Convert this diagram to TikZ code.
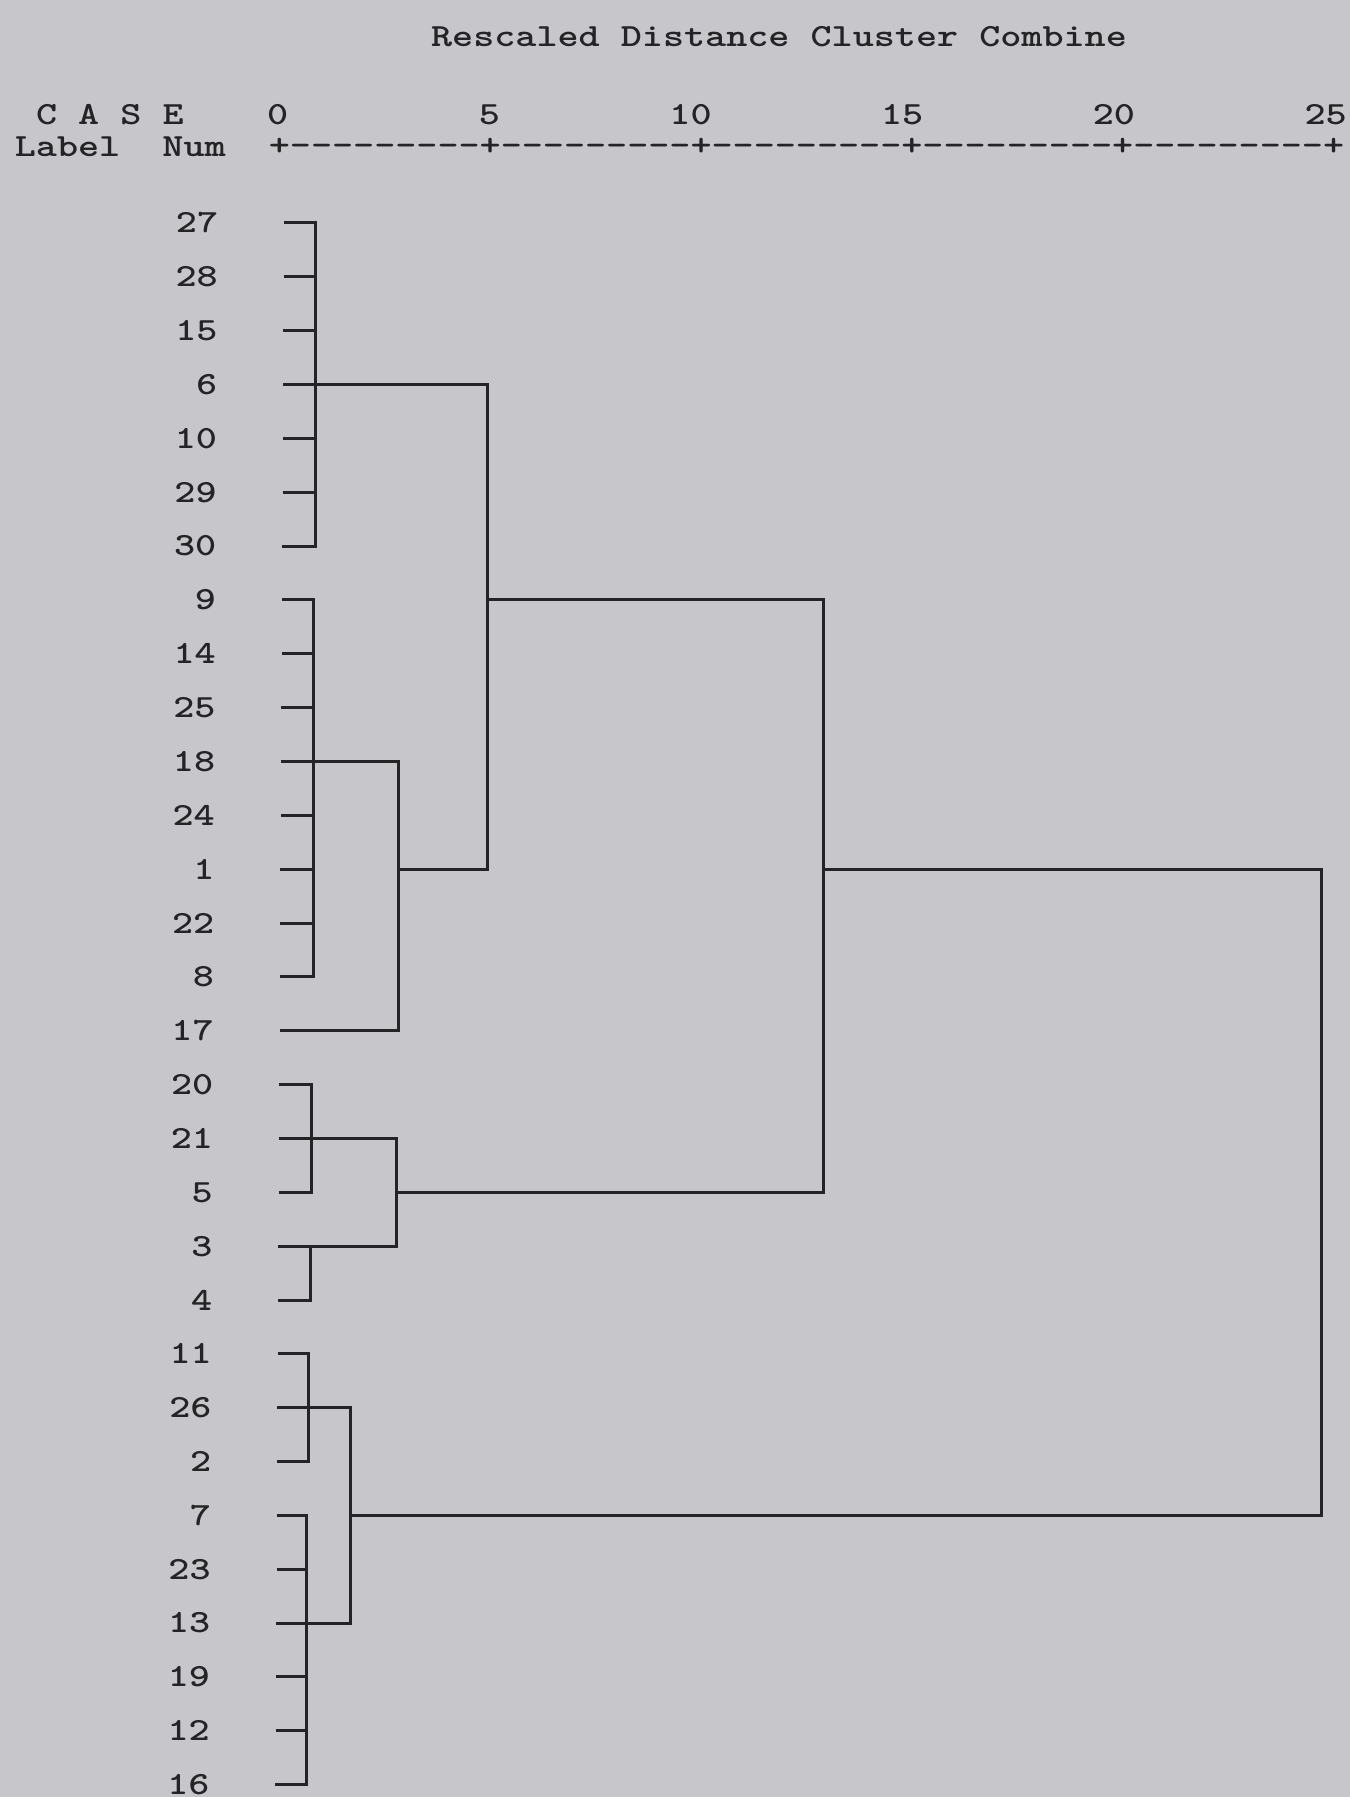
\documentclass[tikz,border=0pt]{standalone}
\definecolor{paper}{RGB}{199,199,203}
\definecolor{ink}{RGB}{36,36,38}
\tikzset{
    spss text/.style={font=\ttfamily\bfseries\fontsize{9.2}{11}\selectfont, xscale=1.242,
                      text=ink, inner sep=0pt},
    case label/.style={spss text, anchor=east},
    link/.style={draw=ink, line width=0.3mm},
}
\newcommand{\dashrun}{\foreach \k in {1,...,9}{-\kern0pt}}
\newcommand{\rowy}[1]{223+53.85*#1}
\begin{document}
\begin{tikzpicture}[x=0.1mm, y=-0.1mm]
    \def\cw{21.167}
    \fill[paper] (0,0) rectangle (1350,1797);
    \useasboundingbox (0,0) rectangle (1350,1797);
    % Header lines of the listing
    \node[spss text] (title) at (779, 37) {Rescaled Distance Cluster Combine};
    \node[spss text, anchor=west] (case) at ({14+\cw}, 115) {C~A~S~E};
    \node[spss text, anchor=west] (labnum) at (14, 147) {Label~~Num};
    \node[spss text, anchor=west] (axis) at ({14+12*\cw}, 147)
        {+\dashrun+\dashrun+\dashrun+\dashrun+\dashrun+};
    \foreach \t in {0,5,...,25}
        \node[spss text, anchor=east] (tick\t) at ({14+(13+2*\t)*\cw}, 115) {\t};
    % Cases, top to bottom
    \foreach \c [count=\i from 0] in {27,28,15,6,10,29,30,9,14,25,18,24,1,22,8,
                                      17,20,21,5,3,4,11,26,2,7,23,13,19,12,16} {
        \node[case label] (n\c) at (219-0.3*\i, \rowy{\i}) {\c};
        \coordinate (l\c) at (284-0.3*\i, \rowy{\i});
    }
    % Joints: x where the clusters combine, row the joint leaves on
    \coordinate (A)   at (315, \rowy{3});
    \coordinate (B)   at (313, \rowy{10});
    \coordinate (B17) at (398, \rowy{12});
    \coordinate (AB)  at (487, \rowy{7});
    \coordinate (C)   at (311, \rowy{17});
    \coordinate (F)   at (310, \rowy{19});
    \coordinate (CF)  at (396, \rowy{18});
    \coordinate (ABC) at (823, \rowy{12});
    \coordinate (D)   at (308, \rowy{22});
    \coordinate (E)   at (306, \rowy{26});
    \coordinate (DE)  at (350, \rowy{24});
    \coordinate (ALL) at (1321, \rowy{18});
    % Brackets
    \foreach \c in {27,28,15,6,10,29,30} \draw[link] (l\c) -| (A);
    \foreach \c in {9,14,25,18,24,1,22,8} \draw[link] (l\c) -| (B);
    \draw[link] (B) -| (B17);
    \draw[link] (l17) -| (B17);
    \draw[link] (A) -| (AB);
    \draw[link] (B17) -| (AB);
    \foreach \c in {20,21,5} \draw[link] (l\c) -| (C);
    \foreach \c in {3,4} \draw[link] (l\c) -| (F);
    \draw[link] (C) -| (CF);
    \draw[link] (F) -| (CF);
    \draw[link] (AB) -| (ABC);
    \draw[link] (CF) -| (ABC);
    \foreach \c in {11,26,2} \draw[link] (l\c) -| (D);
    \foreach \c in {7,23,13,19,12,16} \draw[link] (l\c) -| (E);
    \draw[link] (D) -| (DE);
    \draw[link] (E) -| (DE);
    \draw[link] (ABC) -| (ALL);
    \draw[link] (DE) -| (ALL);
\end{tikzpicture}
\end{document}
